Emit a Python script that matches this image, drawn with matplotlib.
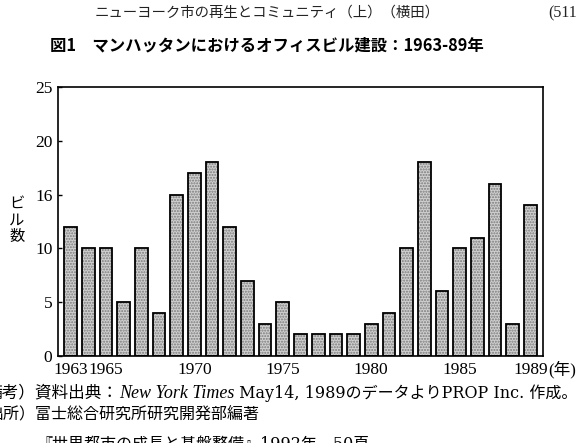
import matplotlib
matplotlib.use("Agg")
import matplotlib.pyplot as plt
import numpy as np

# ---- data ----
years = list(range(1963, 1990))
buildings = [12, 10, 10, 5, 10, 4, 15, 17, 18, 12, 7, 3, 5,
             2, 2, 2, 2, 3, 4, 10, 18, 6, 10, 11, 16, 3, 14]
ytick_vals = [0, 5, 10, 15, 20, 25]
ytick_labels = ["0", "5", "10", "16", "20", "25"]
xtick_years = [1963, 1965, 1970, 1975, 1980, 1985, 1989]
xtick_labels = ["1963", "1965", "1970", "1975", "1980", "1985", "1989"]

header = "ニューヨーク市の再生とコミュニティ（上）（横田）"
page_no = "(511"
title = "図1　マンハッタンにおけるオフィスビル建設：1963-89年"
ylabel = "ビ\nル\n数"

W, H = 581, 443
fig = plt.figure(figsize=(W / 100, H / 100), dpi=100)
fig.patch.set_facecolor("white")

SERIF_JP = ["DejaVu Serif", "Noto Sans CJK JP"]
JP = ["Noto Sans CJK JP", "DejaVu Sans"]

ax = fig.add_axes([58 / W, 1 - 356 / H, (543 - 58) / W, (356 - 87) / H])
x = np.arange(len(years))
# stipple fill
ax.bar(x, buildings, width=0.72, color="#d0d0d0", edgecolor="#7a7a7a",
       hatch="......", linewidth=0, zorder=2)
# outline
ax.bar(x, buildings, width=0.72, facecolor="none", edgecolor="black",
       linewidth=1.3, zorder=3)

ax.set_xlim(-0.71, len(years) - 1 + 0.71)
ax.set_ylim(0, 25)
ax.set_yticks(ytick_vals)
ax.set_yticklabels(ytick_labels, family="Liberation Serif", fontsize=12.5)
ax.tick_params(axis="y", direction="in", length=3, width=1, pad=4)
ax.set_xticks([years.index(y) for y in xtick_years])
ax.set_xticklabels(xtick_labels, family="Liberation Serif", fontsize=12.5)
ax.tick_params(axis="x", length=0, pad=4)
for s in ax.spines.values():
    s.set_linewidth(1.2)

renderer = fig.canvas.get_renderer()
fig.canvas.draw()
last = ax.get_xticklabels()[-1]
bb = last.get_window_extent(renderer=renderer)
fig.text(bb.x1 / W, (bb.y0 + bb.y1) / 2 / H, "(年)", family=["Liberation Serif", "Noto Sans CJK JP"],
         fontsize=12, ha="left", va="center")

fig.text(17 / W, 1 - 220 / H, ylabel, family=JP, fontsize=11,
         ha="center", va="center", linespacing=1.0)

fig.text(95 / W, 1 - 13 / H, header, family=JP, fontsize=10.4, ha="left", va="center",
         color="#222222")
fig.text(548 / W, 1 - 13 / H, page_no, family="Liberation Serif", fontsize=11.5,
         ha="left", va="center", color="#222222")
fig.text(50 / W, 1 - 45 / H, title, family=JP, fontsize=11.8, fontweight="bold",
         ha="left", va="center")


def line(pieces, x0, yc):
    xpix = x0
    for txt, kw in pieces:
        t = fig.text(xpix / W, 1 - yc / H, txt, ha="left", va="center_baseline", **kw)
        b = t.get_window_extent(renderer=renderer)
        xpix = b.x1
    return xpix


line([("備考）資料出典：", dict(family=SERIF_JP, fontsize=12)),
      ("New York Times", dict(family="Liberation Serif", style="italic", fontsize=13)),
      (" May14, 1989のデータよりPROP Inc. 作成。", dict(family=SERIF_JP, fontsize=11.5))],
     -14, 391)
line([("出所）富士総合研究所研究開発部編著", dict(family=SERIF_JP, fontsize=11.5))], -13, 413)
line([("『世界都市の成長と基盤整備』1992年、50頁", dict(family=SERIF_JP, fontsize=11.5))], 36, 442)

fig.savefig("out.png", dpi=100)
